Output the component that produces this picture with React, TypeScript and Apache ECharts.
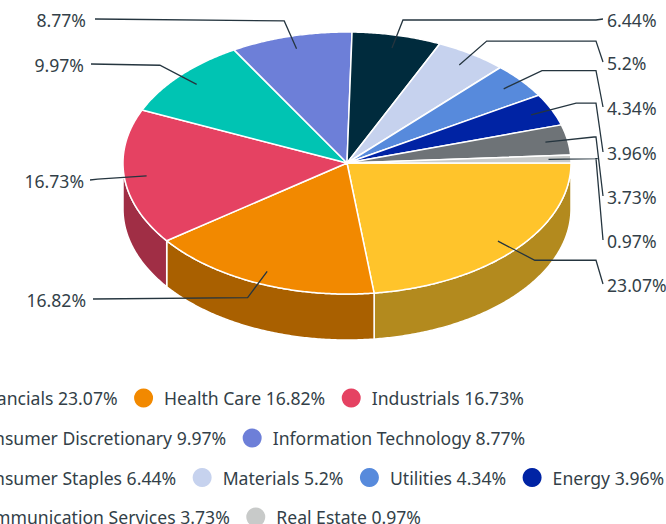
import React, { useEffect, useRef } from "react";
import * as echarts from "echarts";

const sectors = ["Financials","Health Care","Industrials","Consumer Discretionary","Information Technology","Consumer Staples","Materials","Utilities","Energy","Communication Services","Real Estate"];
const weights = [23.07,16.82,16.73,9.97,8.77,6.44,5.2,4.34,3.96,3.73,0.97];
const colors = ["#FFC42B","#F28900","#E54262","#00C4B3","#6D7FD8","#002B3D","#C6D2EE","#578ADC","#0023A4","#6E7377","#C8CAC9"];
const sideColors = ["#B38A1E","#A96000","#A02E45"];
const legendRows = [[0,1,2],[3,4],[5,6,7,8],[9,10]];

const labelYs = [285,300,181,65,20,20,63,108,153,197,241];
const leftLabelX: Record<number, number> = { 1: 86, 2: 84, 3: 84, 4: 86 };
const leftLineEnd: Record<number, number> = { 1: 93, 2: 90, 3: 91, 4: 95 };
const legendTop = [388.5,428.5,468,507.5];

const CX = 347, CY = 163, RX = 224, RY = 131, DEPTH = 46;
const FONT = '"Noto Sans", sans-serif';
const FONT_SIZE = 17.6;
const TEXT = "#333f48";
const LINE = "#25353f";

const total = weights.reduce((a, b) => a + b, 0);
const pt = (deg: number, k = 1, dy = 0): number[] => {
  const r = (deg * Math.PI) / 180;
  return [CX + RX * k * Math.cos(r), CY + RY * k * Math.sin(r) + dy];
};
const arc = (a0: number, a1: number, dy = 0): number[][] => {
  const out: number[][] = [];
  const n = Math.max(2, Math.ceil(Math.abs(a1 - a0) * 2));
  for (let i = 0; i <= n; i++) out.push(pt(a0 + ((a1 - a0) * i) / n, 1, dy));
  return out;
};

function renderSlice(i: number) {
  let before = 0;
  for (let j = 0; j < i; j++) before += weights[j];
  const a0 = (before / total) * 360;
  const a1 = ((before + weights[i]) / total) * 360;
  const mid = (a0 + a1) / 2;
  const children: any[] = [];
  const s0 = Math.max(a0, 0), s1 = Math.min(a1, 180);
  if (s1 > s0) {
    children.push({
      type: "polygon", z2: 1,
      shape: { points: [...arc(s0, s1), ...arc(s1, s0, DEPTH)] },
      style: { fill: sideColors[i] ?? colors[i], stroke: "#fff", lineWidth: 1.5, lineJoin: "round" },
    });
  }
  children.push({
    type: "polygon", z2: 2,
    shape: { points: [[CX, CY], ...arc(a0, a1)] },
    style: { fill: colors[i], stroke: "#fff", lineWidth: 1.5, lineJoin: "round" },
  });
  const right = Math.cos((mid * Math.PI) / 180) > 0;
  const inner = pt(mid, 0.9), elbow = pt(mid, 1.12);
  const y = labelYs[i];
  const linePts = right
    ? [inner, elbow, [596, elbow[1]], [603, y - 1]]
    : [inner, elbow, [leftLineEnd[i], y - 1]];
  children.push({
    type: "polyline", z2: 3,
    shape: { points: linePts },
    style: { fill: "none", stroke: LINE, lineWidth: 1.3 },
  });
  children.push({
    type: "text", z2: 4,
    x: right ? 607 : leftLabelX[i], y,
    style: { text: `${weights[i]}%`, font: `${FONT_SIZE}px ${FONT}`, fill: TEXT, textAlign: right ? "left" : "right", textVerticalAlign: "middle", verticalAlign: "middle" },
  });
  return { type: "group", children };
}

export default function App() {
  const ref = useRef<HTMLDivElement>(null);
  useEffect(() => {
    const chart = echarts.init(ref.current!, undefined, { renderer: "svg" });
    const seriesName = (i: number) => `${sectors[i]} ${weights[i]}%`;
    chart.setOption({
      animation: false,
      backgroundColor: "#fff",
      legend: legendRows.map((row, r) => ({
        show: true,
        orient: "horizontal",
        left: -57.7,
        top: legendTop[r],
        width: 1200,
        padding: 0,
        icon: "circle",
        itemWidth: 19,
        itemHeight: 19,
        itemGap: 16.5,
        selectedMode: false,
        textStyle: { fontFamily: FONT, fontSize: FONT_SIZE, color: TEXT, padding: [0, 0, 0, 6] },
        data: row.map(seriesName),
      })),
      series: sectors.map((_, i) => ({
        type: "custom",
        name: seriesName(i),
        coordinateSystem: "none",
        silent: true,
        itemStyle: { color: colors[i] },
        data: [weights[i]],
        renderItem: () => renderSlice(i),
      })),
    });
    return () => chart.dispose();
  }, []);
  return <div ref={ref} style={{ position: "absolute", left: 0, top: 0, width: 666, height: 524 }} />;
}
